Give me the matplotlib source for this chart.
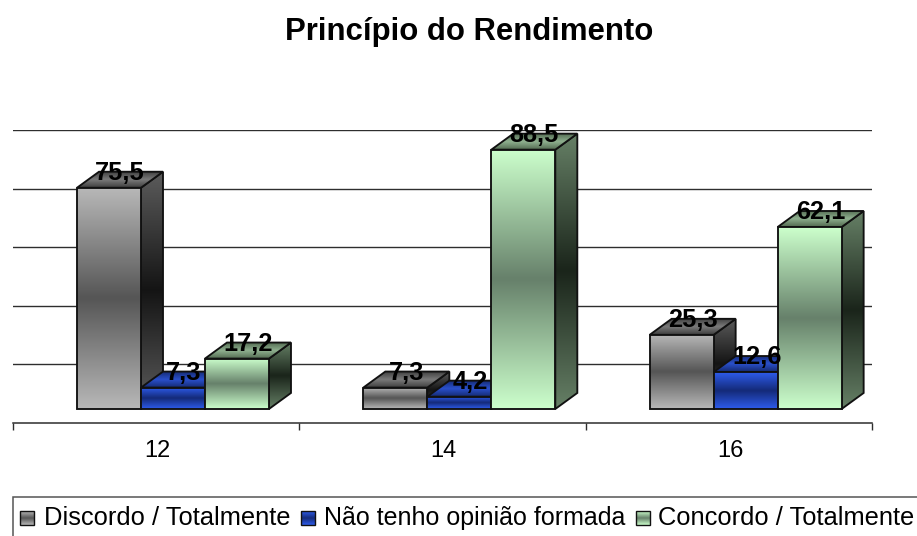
import numpy as np
import matplotlib
matplotlib.use("Agg")
import matplotlib.pyplot as plt
from matplotlib.colors import LinearSegmentedColormap
from matplotlib.patches import Polygon, Rectangle

plt.rcParams['font.family'] = ['Liberation Sans', 'DejaVu Sans']

title = "Princípio do Rendimento"
categories = ["12", "14", "16"]
series_names = ["Discordo / Totalmente", "Não tenho opinião formada", "Concordo / Totalmente"]
discordo = [75.5, 7.3, 25.3]
sem_opiniao = [7.3, 4.2, 12.6]
concordo = [17.2, 88.5, 62.1]
grid_values = [20, 40, 60, 80, 100]
labels_fmt = "{:.1f}"

W, H = 917, 536
fig = plt.figure(figsize=(W / 100, H / 100), dpi=100, facecolor="white")

# plot area in figure pixels
L, R, T, B = 13, 872, 130, 423
ax = fig.add_axes([L / W, 1 - B / H, (R - L) / W, (B - T) / H])
px_per_unit = 2.925
floor_px = 14            # front base of the bars sits above the axis line
floor = -floor_px / px_per_unit
dz_y = 16 / px_per_unit  # depth offset, value units
cat_px = (R - L) / 3
dz_x = 22 / cat_px       # depth offset, category units
bar_w = 0.2235


def cmap(stops):
    return LinearSegmentedColormap.from_list("c", stops)


def shaded(target, xy, stops, z, edge="#111111", lw=1.35):
    xy = np.array(xy)
    grad = np.linspace(0, 1, 128).reshape(-1, 1)
    x0, x1, y0, y1 = xy[:, 0].min(), xy[:, 0].max(), xy[:, 1].min(), xy[:, 1].max()
    im = target.imshow(grad, cmap=cmap(stops), aspect="auto", extent=(x0, x1, y0, y1),
                       origin="lower", zorder=z, interpolation="bilinear")
    p = Polygon(xy, closed=True, transform=target.transData, fc="none", ec="none")
    target.add_patch(p)
    im.set_clip_path(p)
    target.add_patch(Polygon(xy, closed=True, fc="none", ec=edge, lw=lw, zorder=z + 0.1,
                             joinstyle="miter"))


front_cols = [
    ["#B8B8B8", "#555555", "#B8B8B8"],
    ["#2E5CEC", "#142A78", "#2E5CEC"],
    ["#CCFFCC", "#66806A", "#CCFFCC"],
]
side_cols = [
    ["#5C5C5C", "#141414", "#5C5C5C"],
    ["#182E80", "#0A1540", "#182E80"],
    ["#668066", "#1A241A", "#668066"],
]
top_cols = [
    ["#3C3C3C", "#7A7A7A", "#3C3C3C"],
    ["#14296E", "#2A50CC", "#14296E"],
    ["#50684F", "#8FB08F", "#50684F"],
]

for g in grid_values:
    ax.axhline(floor + g, color="#2E2E2E", lw=1.0, zorder=1)

z = 3
series = [discordo, sem_opiniao, concordo]
for i in range(len(categories)):
    for s, vals in enumerate(series):
        v = vals[i]
        x0 = i + 0.2235 + bar_w * s
        x1 = x0 + bar_w
        shaded(ax, [(x1, 0), (x1 + dz_x, dz_y), (x1 + dz_x, v + dz_y), (x1, v)], side_cols[s], z)
        shaded(ax, [(x0, v), (x1, v), (x1 + dz_x, v + dz_y), (x0 + dz_x, v + dz_y)], top_cols[s], z + 1)
        shaded(ax, [(x0, 0), (x1, 0), (x1, v), (x0, v)], front_cols[s], z + 2)
        z += 3

for i in range(len(categories)):
    for s, vals in enumerate(series):
        v = vals[i]
        ax.text(i + 0.2235 + bar_w * (s + 0.5) + dz_x / 2, v + dz_y - 0.35,
                labels_fmt.format(v).replace(".", ","),
                ha="center", va="center", fontsize=18.3, fontweight="bold", color="black", zorder=200)

ax.set_xlim(0, 3)
ax.set_ylim(floor, floor + 100)
ax.patch.set_visible(False)
for k in ["top", "left", "right"]:
    ax.spines[k].set_visible(False)
ax.spines["bottom"].set_color("#2E2E2E")
ax.spines["bottom"].set_linewidth(1.1)
ax.set_yticks([])
ax.set_xticks([0, 1, 2, 3])
ax.set_xticklabels([])
ax.set_xticks([0.503, 1.504, 2.505], minor=True)
ax.set_xticklabels(categories, minor=True, fontsize=17)
ax.tick_params(axis="x", which="major", length=5, width=1.0, color="#2E2E2E")
ax.tick_params(axis="x", which="minor", length=0, pad=12)

fig.text(469 / W, 1 - 32 / H, title, ha="center", va="center", fontsize=22.4, fontweight="bold")

# legend, in figure pixels
lg = fig.add_axes([0, 0, 1, 1], zorder=300)
lg.set_xlim(0, W)
lg.set_ylim(H, 0)
lg.axis("off")
lg.patch.set_visible(False)
lg.add_patch(Rectangle((12.5, 497), 920, 60, fc="white", ec="#555555", lw=1.1, clip_on=True))
text_x = [44, 324, 658]
box_x = [20, 301, 636]
legend_sizes = [18.4, 18, 18.4]
for k, name in enumerate(series_names):
    bx = box_x[k]
    shaded(lg, [(bx, 511), (bx + 14, 511), (bx + 14, 525), (bx, 525)], front_cols[k], 310, lw=1.0)
    lg.text(text_x[k], 518, name, ha="left", va="center", fontsize=legend_sizes[k], color="black", zorder=320)
lg.set_xlim(0, W)
lg.set_ylim(H, 0)

fig.savefig("out.png", dpi=100)
